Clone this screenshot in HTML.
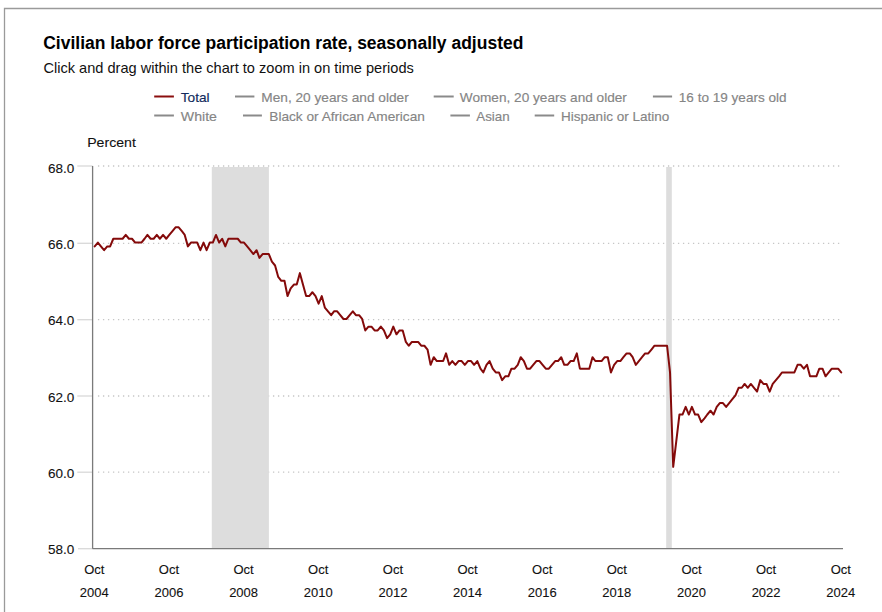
<!DOCTYPE html>
<html><head><meta charset="utf-8"><style>
html,body{margin:0;padding:0;background:#fff;width:882px;height:612px;overflow:hidden}
svg{display:block;font-family:"Liberation Sans",sans-serif}
.grid{stroke:#c6c6c6;stroke-width:1.3;stroke-dasharray:1.3 3.7}
.tick{stroke:#d8d8d8;stroke-width:1.3}
.ax{font-size:13px;fill:#111;stroke:#111;stroke-width:0.1px}
.lg{font-size:13px;stroke-width:0.15px}
</style></head><body>
<svg width="882" height="612" viewBox="0 0 882 612">
<rect x="0" y="0" width="882" height="612" fill="#fff"/>
<path d="M4.5 612 V8.5 H882" fill="none" stroke="#9a9a9a" stroke-width="1.3"/>
<text x="43.2" y="49" font-size="18" font-weight="bold" fill="#000" textLength="480.2" lengthAdjust="spacingAndGlyphs">Civilian labor force participation rate, seasonally adjusted</text>
<text x="43.4" y="72.7" font-size="14.5" fill="#111" textLength="370.4" lengthAdjust="spacingAndGlyphs">Click and drag within the chart to zoom in on time periods</text>
<line x1="154.2" y1="96.5" x2="173.9" y2="96.5" stroke="#8b0e0e" stroke-width="2"/><text x="180.8" y="101.8" fill="#112a5c" stroke="#112a5c" class="lg" textLength="28.8" lengthAdjust="spacingAndGlyphs">Total</text><line x1="235.0" y1="96.5" x2="254.4" y2="96.5" stroke="#8a8a8a" stroke-width="2"/><text x="261.3" y="101.8" fill="#858585" stroke="#858585" class="lg" textLength="147.4" lengthAdjust="spacingAndGlyphs">Men, 20 years and older</text><line x1="433.7" y1="96.5" x2="453.7" y2="96.5" stroke="#8a8a8a" stroke-width="2"/><text x="459.8" y="101.8" fill="#858585" stroke="#858585" class="lg" textLength="167.1" lengthAdjust="spacingAndGlyphs">Women, 20 years and older</text><line x1="652.9" y1="96.5" x2="672.1" y2="96.5" stroke="#8a8a8a" stroke-width="2"/><text x="678.8" y="101.8" fill="#858585" stroke="#858585" class="lg" textLength="107.8" lengthAdjust="spacingAndGlyphs">16 to 19 years old</text><line x1="154.2" y1="115.5" x2="173.9" y2="115.5" stroke="#8a8a8a" stroke-width="2"/><text x="180.8" y="120.7" fill="#858585" stroke="#858585" class="lg" textLength="36.2" lengthAdjust="spacingAndGlyphs">White</text><line x1="243.0" y1="115.5" x2="261.9" y2="115.5" stroke="#8a8a8a" stroke-width="2"/><text x="269.3" y="120.7" fill="#858585" stroke="#858585" class="lg" textLength="155.6" lengthAdjust="spacingAndGlyphs">Black or African American</text><line x1="450.4" y1="115.5" x2="469.9" y2="115.5" stroke="#8a8a8a" stroke-width="2"/><text x="476.3" y="120.7" fill="#858585" stroke="#858585" class="lg" textLength="33.4" lengthAdjust="spacingAndGlyphs">Asian</text><line x1="534.7" y1="115.5" x2="554.2" y2="115.5" stroke="#8a8a8a" stroke-width="2"/><text x="561.1" y="120.7" fill="#858585" stroke="#858585" class="lg" textLength="108.1" lengthAdjust="spacingAndGlyphs">Hispanic or Latino</text>
<text x="87.2" y="147.4" class="ax" textLength="48.7" lengthAdjust="spacingAndGlyphs">Percent</text>
<line x1="97.95" y1="166.0" x2="840" y2="166.0" class="grid"/><line x1="77.3" y1="166.0" x2="92.6" y2="166.0" class="tick"/><line x1="97.95" y1="243.3" x2="840" y2="243.3" class="grid"/><line x1="77.3" y1="243.3" x2="92.6" y2="243.3" class="tick"/><line x1="97.95" y1="319.7" x2="840" y2="319.7" class="grid"/><line x1="77.3" y1="319.7" x2="92.6" y2="319.7" class="tick"/><line x1="97.95" y1="396.0" x2="840" y2="396.0" class="grid"/><line x1="77.3" y1="396.0" x2="92.6" y2="396.0" class="tick"/><line x1="97.95" y1="472.2" x2="840" y2="472.2" class="grid"/><line x1="77.3" y1="472.2" x2="92.6" y2="472.2" class="tick"/><line x1="78" y1="548.7" x2="92.6" y2="548.7" class="tick"/>
<rect x="211.8" y="167" width="57.1" height="381.7" fill="#dddddd"/>
<rect x="666.2" y="167" width="5.6" height="381.7" fill="#dddddd"/>
<line x1="92.6" y1="166" x2="92.6" y2="548.7" stroke="#7a7a7a" stroke-width="1.3"/>
<line x1="92.6" y1="548.7" x2="843" y2="548.7" stroke="#7a7a7a" stroke-width="1.3"/>
<text x="74.3" y="173.1" text-anchor="end" class="ax" style="font-size:13.5px">68.0</text><text x="74.3" y="249.3" text-anchor="end" class="ax" style="font-size:13.5px">66.0</text><text x="74.3" y="325.4" text-anchor="end" class="ax" style="font-size:13.5px">64.0</text><text x="74.3" y="401.6" text-anchor="end" class="ax" style="font-size:13.5px">62.0</text><text x="74.3" y="477.7" text-anchor="end" class="ax" style="font-size:13.5px">60.0</text><text x="74.3" y="553.9" text-anchor="end" class="ax" style="font-size:13.5px">58.0</text>
<text x="94.3" y="573.6" text-anchor="middle" class="ax">Oct</text><text x="94.3" y="596.6" text-anchor="middle" class="ax">2004</text><text x="168.9" y="573.6" text-anchor="middle" class="ax">Oct</text><text x="168.9" y="596.6" text-anchor="middle" class="ax">2006</text><text x="243.6" y="573.6" text-anchor="middle" class="ax">Oct</text><text x="243.6" y="596.6" text-anchor="middle" class="ax">2008</text><text x="318.2" y="573.6" text-anchor="middle" class="ax">Oct</text><text x="318.2" y="596.6" text-anchor="middle" class="ax">2010</text><text x="392.9" y="573.6" text-anchor="middle" class="ax">Oct</text><text x="392.9" y="596.6" text-anchor="middle" class="ax">2012</text><text x="467.5" y="573.6" text-anchor="middle" class="ax">Oct</text><text x="467.5" y="596.6" text-anchor="middle" class="ax">2014</text><text x="542.2" y="573.6" text-anchor="middle" class="ax">Oct</text><text x="542.2" y="596.6" text-anchor="middle" class="ax">2016</text><text x="616.8" y="573.6" text-anchor="middle" class="ax">Oct</text><text x="616.8" y="596.6" text-anchor="middle" class="ax">2018</text><text x="691.5" y="573.6" text-anchor="middle" class="ax">Oct</text><text x="691.5" y="596.6" text-anchor="middle" class="ax">2020</text><text x="766.1" y="573.6" text-anchor="middle" class="ax">Oct</text><text x="766.1" y="596.6" text-anchor="middle" class="ax">2022</text><text x="840.8" y="573.6" text-anchor="middle" class="ax">Oct</text><text x="840.8" y="596.6" text-anchor="middle" class="ax">2024</text>
<polyline points="94.70,246.39 97.87,242.57 100.93,246.39 104.10,250.21 107.27,246.39 110.13,246.39 113.30,238.75 116.36,238.75 119.53,238.75 122.60,238.75 125.77,234.93 128.93,238.75 132.00,238.75 135.17,242.57 138.23,242.57 141.40,242.57 144.57,238.75 147.43,234.93 150.60,238.75 153.66,238.75 156.83,234.93 159.90,238.75 163.07,234.93 166.23,238.75 169.30,234.93 172.47,231.11 175.53,227.29 178.70,227.29 181.87,231.11 184.73,234.93 187.90,246.39 190.96,242.57 194.13,242.57 197.20,242.57 200.36,250.21 203.53,242.57 206.60,250.21 209.77,242.57 212.83,242.57 216.00,234.93 219.17,242.57 222.13,238.75 225.30,246.39 228.36,238.75 231.53,238.75 234.60,238.75 237.77,238.75 240.93,242.57 244.00,242.57 247.17,246.39 250.23,250.21 253.40,254.03 256.57,250.21 259.43,257.85 262.60,254.03 265.66,254.03 268.83,254.03 271.90,261.67 275.07,265.50 278.23,276.96 281.30,280.78 284.47,280.78 287.53,296.06 290.70,288.42 293.87,284.60 296.73,284.60 299.90,273.14 302.96,284.60 306.13,296.06 309.20,296.06 312.37,292.24 315.53,296.06 318.60,303.71 321.77,296.06 324.83,307.53 328.00,311.35 331.17,315.17 334.03,311.35 337.20,311.35 340.26,315.17 343.43,318.99 346.50,318.99 349.66,315.17 352.83,311.35 355.90,315.17 359.07,315.17 362.13,318.99 365.30,330.45 368.47,326.63 371.43,326.63 374.60,330.45 377.66,330.45 380.83,326.63 383.90,330.45 387.07,338.09 390.23,334.27 393.30,326.63 396.47,334.27 399.53,330.45 402.70,330.45 405.87,341.92 408.73,345.74 411.90,341.92 414.96,341.92 418.13,341.92 421.20,345.74 424.37,345.74 427.53,349.56 430.60,364.84 433.77,357.20 436.83,361.02 440.00,361.02 443.17,361.02 446.03,353.38 449.20,364.84 452.26,361.02 455.43,364.84 458.50,361.02 461.67,361.02 464.83,364.84 467.90,361.02 471.07,361.02 474.13,364.84 477.30,361.02 480.47,368.66 483.33,372.48 486.50,364.84 489.56,361.02 492.73,368.66 495.80,372.48 498.96,372.48 502.13,380.13 505.20,376.31 508.37,376.31 511.43,368.66 514.60,368.66 517.77,364.84 520.73,357.20 523.90,361.02 526.96,368.66 530.13,368.66 533.20,364.84 536.37,361.02 539.53,361.02 542.60,364.84 545.77,368.66 548.83,368.66 552.00,364.84 555.17,361.02 558.03,361.02 561.20,357.20 564.26,364.84 567.43,364.84 570.50,361.02 573.67,361.02 576.83,353.38 579.90,368.66 583.07,368.66 586.13,368.66 589.30,368.66 592.47,357.20 595.33,361.02 598.50,361.02 601.56,361.02 604.73,357.20 607.80,357.20 610.97,372.48 614.13,364.84 617.20,361.02 620.37,361.02 623.43,357.20 626.60,353.38 629.77,353.38 632.63,357.20 635.80,364.84 638.86,361.02 642.03,357.20 645.10,353.38 648.26,353.38 651.43,349.56 654.50,345.74 657.67,345.74 660.73,345.74 663.90,345.74 667.07,345.74 670.03,372.48 673.20,466.86 676.26,441.26 679.43,414.51 682.50,414.51 685.67,406.87 688.83,414.51 691.90,406.87 695.07,414.51 698.13,414.51 701.30,422.16 704.47,418.34 707.33,414.51 710.50,410.69 713.56,414.51 716.73,406.87 719.80,403.05 722.97,403.05 726.13,406.87 729.20,403.05 732.37,399.23 735.43,395.41 738.60,387.77 741.77,387.77 744.63,383.95 747.80,387.77 750.86,383.95 754.03,387.77 757.10,391.59 760.27,380.13 763.43,383.95 766.50,383.95 769.67,391.59 772.73,383.95 775.90,380.13 779.07,376.31 781.93,372.48 785.10,372.48 788.16,372.48 791.33,372.48 794.40,372.48 797.56,364.84 800.73,364.84 803.80,368.66 806.97,364.84 810.03,376.31 813.20,376.31 816.37,376.31 819.33,368.66 822.50,368.66 825.56,376.31 828.73,372.48 831.80,368.66 834.97,368.66 838.13,368.66 841.20,372.48" fill="none" stroke="#840a0a" stroke-width="2" stroke-linejoin="round" stroke-linecap="round"/>
</svg>
</body></html>
